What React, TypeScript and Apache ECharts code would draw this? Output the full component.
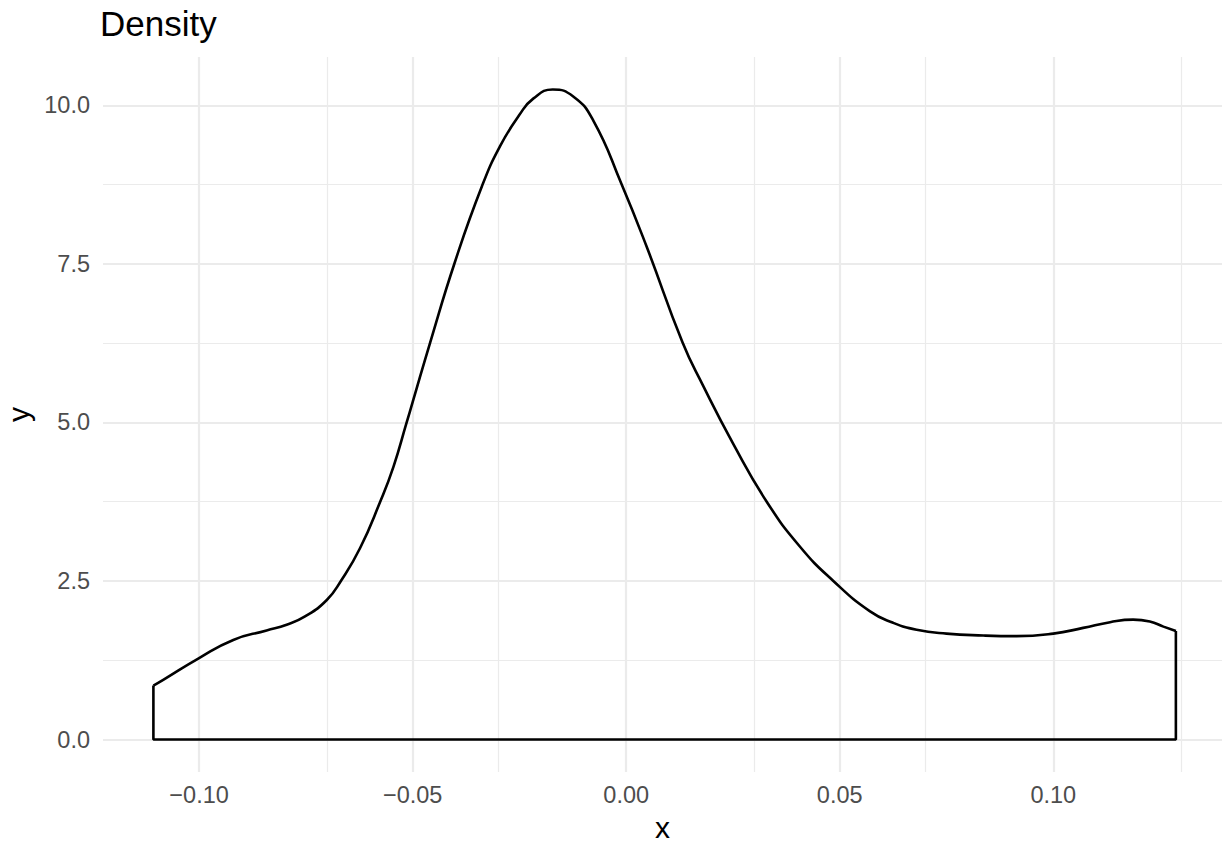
import React, { useEffect, useRef } from 'react';
import * as echarts from 'echarts';

// Density curve (x, estimated density)
const densityX = [
  -0.1107, -0.1084, -0.1001, -0.092, -0.0842, -0.0795, -0.0752, -0.0701, -0.0668, -0.0623,
  -0.0576, -0.0545, -0.0514, -0.05, -0.0459, -0.0401, -0.0338, -0.0295, -0.025, -0.0217,
  -0.0172, -0.0124, -0.0077, -0.0011, 0.0048, 0.0132, 0.018, 0.025, 0.0329, 0.0407,
  0.0485, 0.0571, 0.0625, 0.068, 0.075, 0.0836, 0.0914, 0.1, 0.107, 0.1133,
  0.1187, 0.1226, 0.1258, 0.1287,
];
const densityY = [
  0.85, 0.94, 1.28, 1.57, 1.72, 1.81, 1.94, 2.2, 2.5, 3.02,
  3.75, 4.3, 5.0, 5.32, 6.26, 7.53, 8.72, 9.36, 9.85, 10.11,
  10.25, 10.14, 9.76, 8.76, 7.77, 6.26, 5.58, 4.67, 3.75, 3.04,
  2.5, 2.02, 1.84, 1.73, 1.67, 1.64, 1.63, 1.67, 1.76, 1.85,
  1.89, 1.86, 1.78, 1.71,
];

const xMajorTicks = [-0.1, -0.05, 0, 0.05, 0.1];
const xMinorTicks = [-0.075, -0.025, 0.025, 0.075, 0.125];
const yMajorTicks = [0, 2.5, 5, 7.5, 10];
const yMinorTicks = [1.25, 3.75, 6.25, 8.75];

const titleText = 'Density';
const xTitle = 'x';
const yTitle = 'y';

const FONT = '"Liberation Sans", Arial, Helvetica, sans-serif';
const GRID_COLOR = '#EBEBEB';

export default function App() {
  const ref = useRef<HTMLDivElement>(null);

  useEffect(() => {
    if (!ref.current) return;
    const chart = echarts.init(ref.current, null, { renderer: 'svg' });
    const n = densityX.length;
    const curve = densityX.map((x, i) => [x, densityY[i]]);
    const frame = [
      [densityX[0], densityY[0]],
      [densityX[0], 0],
      [densityX[n - 1], 0],
      [densityX[n - 1], densityY[n - 1]],
    ];

    const gridSeries = (xs: number[], ys: number[], width: number, z: number) => ({
      type: 'line',
      data: [],
      silent: true,
      z,
      markLine: {
        silent: true,
        symbol: ['none', 'none'],
        label: { show: false },
        emphasis: { disabled: true },
        lineStyle: { color: GRID_COLOR, width, type: 'solid' },
        data: [
          ...xs.map((v) => ({ xAxis: v })),
          ...ys.map((v) => ({ yAxis: v })),
        ],
      },
    });

    chart.setOption({
      animation: false,
      backgroundColor: '#ffffff',
      title: {
        text: titleText,
        left: 100,
        top: 6,
        padding: 0,
        textStyle: { fontFamily: FONT, fontSize: 35, fontWeight: 'normal', color: '#000000' },
      },
      grid: {
        left: 103,
        right: 0,
        top: 57,
        bottom: 72,
        containLabel: false,
        outerBoundsMode: 'none',
      },
      xAxis: {
        type: 'value',
        min: -0.1225,
        max: 0.1395,
        name: xTitle,
        nameLocation: 'middle',
        nameGap: 40,
        nameTextStyle: { fontFamily: FONT, fontSize: 30, color: '#000000' },
        axisLine: { show: false },
        axisTick: { show: false },
        splitLine: { show: false },
        axisLabel: {
          customValues: xMajorTicks,
          margin: 11,
          fontFamily: FONT,
          fontSize: 23.5,
          color: '#4D4D4D',
          formatter: (v: number) => (v < 0 ? '\u2212' : '') + Math.abs(v).toFixed(2),
        },
      },
      yAxis: {
        type: 'value',
        min: -0.5125,
        max: 10.7625,
        name: yTitle,
        nameLocation: 'middle',
        nameGap: 70,
        nameTextStyle: { fontFamily: FONT, fontSize: 30, color: '#000000' },
        axisLine: { show: false },
        axisTick: { show: false },
        splitLine: { show: false },
        axisLabel: {
          customValues: yMajorTicks,
          margin: 13,
          fontFamily: FONT,
          fontSize: 23.5,
          color: '#4D4D4D',
          formatter: (v: number) => v.toFixed(1),
        },
      },
      series: [
        gridSeries(xMinorTicks, yMinorTicks, 1.2, 1),
        gridSeries(xMajorTicks, yMajorTicks, 2.2, 2),
        {
          type: 'line',
          data: frame,
          showSymbol: false,
          symbol: 'none',
          z: 5,
          silent: true,
          lineStyle: { color: '#000000', width: 2.6 },
        },
        {
          type: 'line',
          data: curve,
          showSymbol: false,
          symbol: 'none',
          smooth: 0.5,
          z: 5,
          silent: true,
          lineStyle: { color: '#000000', width: 2.6 },
        },
      ],
    });
    return () => chart.dispose();
  }, []);

  return (
    <div
      ref={ref}
      style={{ position: 'absolute', left: 0, top: 0, width: 1222, height: 844 }}
    />
  );
}
